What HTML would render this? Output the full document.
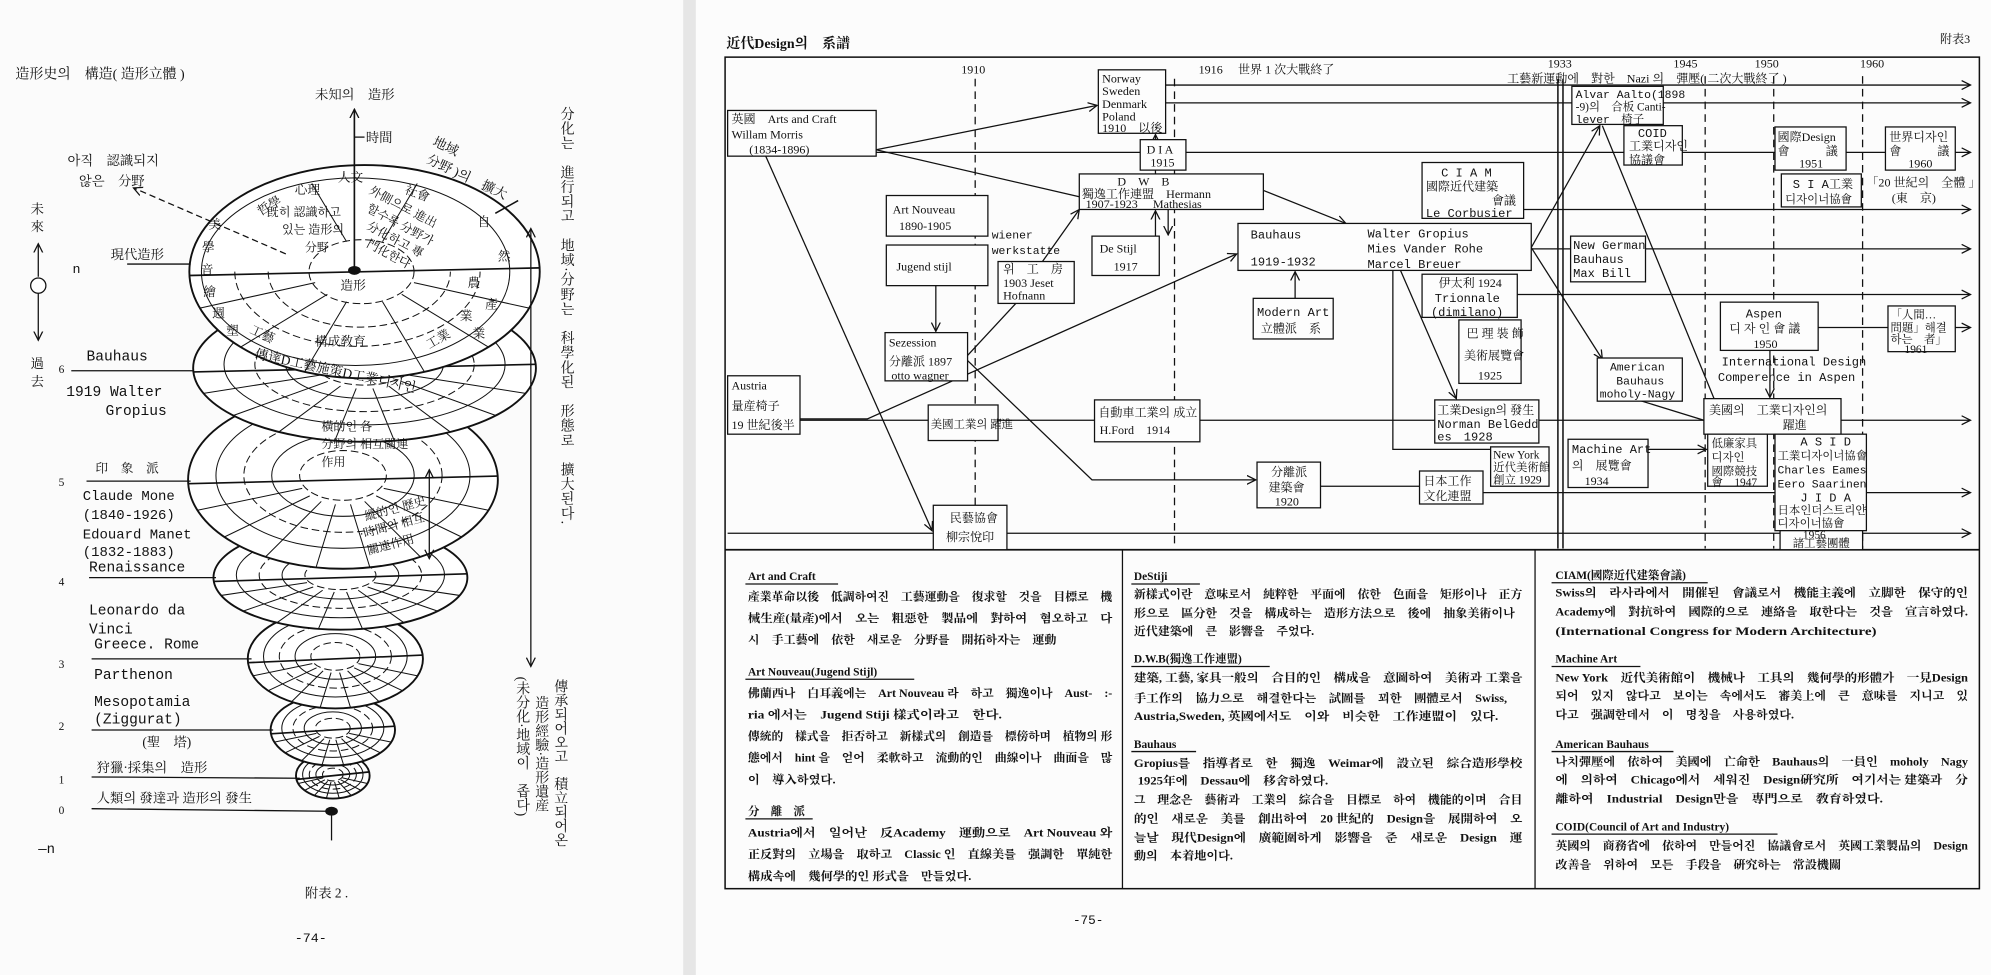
<!DOCTYPE html>
<html><head><meta charset="utf-8">
<style>
html,body{margin:0;padding:0;background:#fbfbfb;}
svg{display:block;}
text{font-family:"Liberation Serif","Noto Serif CJK SC",serif;fill:#111;}
.m{font-family:"Liberation Mono","Noto Serif CJK SC",monospace;}
.b{font-weight:bold;}
</style></head><body>
<svg id="s" width="1991" height="975" viewBox="0 0 1568 768" xmlns="http://www.w3.org/2000/svg">
<defs>
<marker id="a" markerWidth="8" markerHeight="8" refX="7" refY="4" orient="auto" markerUnits="userSpaceOnUse">
<path d="M0,0.5 L7,4 L0,7.5" fill="none" stroke="#111" stroke-width="1"/></marker>
<marker id="as" markerWidth="8" markerHeight="8" refX="7" refY="4" orient="auto-start-reverse" markerUnits="userSpaceOnUse">
<path d="M0,0.5 L7,4 L0,7.5" fill="none" stroke="#111" stroke-width="1"/></marker>
</defs>
<rect x="0" y="0" width="1568" height="768" fill="#fbfbfb"/>
<rect x="538" y="0" width="10" height="768" fill="#e6e6e6"/>
<rect x="548" y="0" width="1020" height="768" fill="#fcfcfc"/>

<!-- ============ LEFT PAGE ============ -->
<g id="left" font-size="10.5">
<text x="12" y="62" font-size="11">造形史의　構造( 造形立體 )</text>
<text x="248" y="78" font-size="10.5">未知의　造形</text>
<g id="layers"></g>
<line x1="279" y1="212" x2="279" y2="86" stroke="#111" stroke-width="1.3" marker-end="url(#a)"/>
<line x1="279" y1="108" x2="287" y2="108" stroke="#111"/>
<text x="288" y="112">時間</text>
<text x="340" y="114" transform="rotate(25 340 114)">地域</text>
<text x="335" y="128" transform="rotate(25 335 128)">分野 )의　擴大</text>
<line x1="390" y1="168" x2="408" y2="158" stroke="#111" stroke-width="1.2"/>
<text x="53" y="130">아직　認識되지</text>
<text x="62" y="146">않은　分野</text>
<line x1="225" y1="200" x2="105" y2="148" stroke="#111" stroke-dasharray="5,3" marker-end="url(#a)"/>
<text x="24" y="168">未</text><text x="24" y="182">來</text>
<line x1="30" y1="218" x2="30" y2="192" stroke="#111" marker-end="url(#a)"/>
<circle cx="30" cy="225" r="6" fill="#fff" stroke="#111"/>
<line x1="30" y1="231" x2="30" y2="268" stroke="#111" marker-end="url(#a)"/>
<text x="24" y="290">過</text><text x="24" y="304">去</text>
<text x="57" y="215" class="m">n</text>
<text x="87" y="204">現代造形</text>
<line x1="100" y1="208" x2="150" y2="208" stroke="#111"/>
<text x="68" y="284" class="m" font-size="11.5">Bauhaus</text>
<text x="46" y="294" font-size="9">6</text>
<line x1="56" y1="292" x2="152" y2="292" stroke="#111"/>
<text x="52" y="312" class="m" font-size="11.5">1919 Walter</text>
<text x="83" y="327" class="m" font-size="11.5">Gropius</text>
<text x="75" y="372" font-size="10">印　象　派</text>
<text x="46" y="383" font-size="9">5</text>
<line x1="68" y1="379" x2="150" y2="379" stroke="#111"/>
<text x="65" y="394" class="m" font-size="11">Claude Mone</text>
<text x="65" y="409" class="m" font-size="11">(1840-1926)</text>
<text x="65" y="424" class="m" font-size="11">Edouard Manet</text>
<text x="65" y="438" class="m" font-size="11">(1832-1883)</text>
<text x="70" y="450" class="m" font-size="11.5">Renaissance</text>
<text x="46" y="461" font-size="9">4</text>
<line x1="70" y1="455" x2="170" y2="455" stroke="#111"/>
<text x="70" y="484" class="m" font-size="11.5">Leonardo da</text>
<text x="70" y="499" class="m" font-size="11.5">Vinci</text>
<text x="74" y="511" class="m" font-size="11.5">Greece. Rome</text>
<text x="46" y="526" font-size="9">3</text>
<line x1="72" y1="519" x2="198" y2="519" stroke="#111"/>
<text x="74" y="535" class="m" font-size="11.5">Parthenon</text>
<text x="74" y="556" class="m" font-size="11.5">Mesopotamia</text>
<text x="74" y="570" class="m" font-size="11.5">(Ziggurat)</text>
<text x="46" y="575" font-size="9">2</text>
<line x1="72" y1="575" x2="215" y2="575" stroke="#111"/>
<text x="112" y="588">(聖　塔)</text>
<text x="76" y="608">狩獵·採集의　造形</text>
<text x="46" y="617" font-size="9">1</text>
<line x1="72" y1="612" x2="236" y2="613" stroke="#111"/>
<text x="76" y="632">人類의 發達과 造形의 發生</text>
<text x="46" y="641" font-size="9">0</text>
<line x1="72" y1="637" x2="258" y2="639" stroke="#111"/>
<ellipse cx="261" cy="639" rx="5" ry="3.5" fill="#111"/>
<line x1="261" y1="639" x2="261" y2="662" stroke="#111"/>
<text x="30" y="672" class="m" font-size="11">—n</text>
<text x="240" y="707">附表 2 .</text>
<text x="232" y="742" class="m">-74-</text>
<text font-size="11" x="445" y="84" style="writing-mode:vertical-rl" letter-spacing="0.5">分化는　進行되고　地域·分野는　科學化된　形態로　擴大된다.</text>
<line x1="418" y1="525" x2="418" y2="180" stroke="#111" marker-start="url(#as)" marker-end="url(#a)"/>
<text font-size="11" x="440" y="535" style="writing-mode:vertical-rl">傳承되어오고　積立되어온</text>
<text font-size="11" x="425" y="548" style="writing-mode:vertical-rl">造形經驗·造形遺産</text>
<text font-size="11" x="410" y="533" style="writing-mode:vertical-rl">(未分化·地域이　좁다)</text>
</g>

<!-- ============ RIGHT PAGE ============ -->
<g id="right" font-size="9.5" stroke-linecap="butt">
<text x="572" y="38" font-size="11" class="b">近代Design의　系譜</text>
<text x="1528" y="34" font-size="9.5">附表3</text>
<rect x="571" y="45" width="988" height="655" fill="none" stroke="#111" stroke-width="1.2"/>
<line x1="571" y1="433" x2="1559" y2="433" stroke="#111" stroke-width="1.4"/>
<line x1="884" y1="433" x2="884" y2="700" stroke="#111"/>
<line x1="1209" y1="433" x2="1209" y2="700" stroke="#111"/>
<g stroke="#111" stroke-dasharray="6,4">
<line x1="768" y1="62" x2="768" y2="432"/><line x1="925" y1="62" x2="925" y2="432"/>
<line x1="1343" y1="60" x2="1343" y2="432"/><line x1="1397" y1="60" x2="1397" y2="432"/><line x1="1467" y1="60" x2="1467" y2="432"/>
</g>
<line x1="1227" y1="62" x2="1227" y2="432" stroke="#111" stroke-width="1.2"/>
<line x1="1231" y1="62" x2="1231" y2="432" stroke="#111" stroke-width="1.2"/>
<text x="757" y="58">1910</text><text x="944" y="58">1916</text>
<text x="975" y="58">世界 1 次大戰終了</text>
<text x="1219" y="53">1933</text><text x="1318" y="53">1945</text>
<text x="1382" y="53">1950</text><text x="1465" y="53">1960</text>
<text x="1187" y="65">工藝新運動에　對한　Nazi 의　彈壓( 二次大戰終了 )</text>

<g stroke="#111" fill="none">
<line x1="918" y1="67" x2="1552" y2="67" marker-end="url(#a)"/>
<line x1="918" y1="81" x2="1238" y2="81"/>
<line x1="1310" y1="81" x2="1552" y2="81" marker-end="url(#a)"/>
<line x1="690" y1="120" x2="1552" y2="120" marker-end="url(#a)"/>
<line x1="1200" y1="165" x2="1552" y2="165" marker-end="url(#a)"/>
<line x1="1206" y1="196" x2="1552" y2="196" marker-end="url(#a)"/>
<line x1="1195" y1="232" x2="1552" y2="232" marker-end="url(#a)"/>
<line x1="1432" y1="258" x2="1552" y2="258" marker-end="url(#a)"/>
<line x1="630" y1="331" x2="1552" y2="331" marker-end="url(#a)"/>
<line x1="1040" y1="383" x2="1118" y2="383"/>
<line x1="1168" y1="388" x2="1552" y2="388" marker-end="url(#a)"/>
<line x1="573" y1="420" x2="1552" y2="420" marker-end="url(#a)"/>
<line x1="690" y1="118" x2="864" y2="83" marker-end="url(#a)"/>
<line x1="690" y1="118" x2="850" y2="155"/>
<line x1="603" y1="123" x2="734" y2="418" marker-end="url(#a)"/>
<line x1="737" y1="225" x2="737" y2="261" marker-end="url(#a)"/>
<line x1="762" y1="280" x2="800" y2="239"/>
<line x1="821" y1="206" x2="850" y2="165" marker-end="url(#a)"/>
<polyline points="762,284 860,378 989,378" marker-end="url(#a)"/>
<polyline points="630,330 683,330 974,200" marker-end="url(#a)"/>
<line x1="910" y1="137" x2="910" y2="106" marker-end="url(#a)"/>
<line x1="920" y1="165" x2="920" y2="185" marker-end="url(#a)"/>
<line x1="910" y1="186" x2="910" y2="166" marker-end="url(#a)"/>
<line x1="995" y1="150" x2="1060" y2="176" marker-end="url(#a)"/>
<line x1="1020" y1="235" x2="1020" y2="214" marker-end="url(#a)"/>
<polyline points="1097,213 1097,354 1174,354"/>
<line x1="1103" y1="213" x2="1147" y2="314" marker-end="url(#a)"/>
<line x1="1206" y1="195" x2="1260" y2="99" marker-end="url(#a)"/>
<line x1="1206" y1="195" x2="1262" y2="283" marker-end="url(#a)"/>
<line x1="1262" y1="99" x2="1350" y2="314"/>
<line x1="1290" y1="315" x2="1342" y2="331"/>
<line x1="1298" y1="354" x2="1344" y2="354" marker-end="url(#a)"/>
<line x1="1394" y1="276" x2="1394" y2="313" marker-end="url(#a)"/>
</g>

<g fill="#fdfdfd" stroke="#111" stroke-width="1">
<rect x="573" y="87" width="117" height="36"/>
<rect x="865" y="55" width="53" height="50"/>
<rect x="898" y="110" width="36" height="24"/>
<rect x="850" y="137" width="145" height="28"/>
<rect x="698" y="154" width="80" height="32"/>
<rect x="698" y="193" width="80" height="32"/>
<rect x="786" y="206" width="60" height="33"/>
<rect x="860" y="186" width="53" height="31"/>
<rect x="697" y="262" width="65" height="38"/>
<rect x="573" y="296" width="57" height="46"/>
<rect x="731" y="319" width="55" height="28"/>
<rect x="862" y="315" width="83" height="33"/>
<rect x="735" y="398" width="58" height="35"/>
<rect x="990" y="364" width="50" height="36"/>
<rect x="1118" y="371" width="50" height="26"/>
<rect x="975" y="176" width="231" height="37"/>
<rect x="1120" y="128" width="80" height="44"/>
<rect x="987" y="235" width="63" height="32"/>
<rect x="1120" y="216" width="75" height="34"/>
<rect x="1149" y="252" width="49" height="50"/>
<rect x="1130" y="315" width="82" height="34"/>
<rect x="1174" y="352" width="46" height="31"/>
<rect x="1238" y="68" width="72" height="30"/>
<rect x="1279" y="99" width="46" height="31"/>
<rect x="1237" y="186" width="59" height="36"/>
<rect x="1258" y="282" width="67" height="34"/>
<rect x="1235" y="346" width="63" height="38"/>
<rect x="1342" y="314" width="108" height="28"/>
<rect x="1345" y="342" width="47" height="41"/>
<rect x="1398" y="342" width="72" height="76"/>
<rect x="1402" y="418" width="65" height="15"/>
<rect x="1398" y="100" width="56" height="34"/>
<rect x="1403" y="137" width="63" height="26"/>
<rect x="1485" y="100" width="55" height="34"/>
<rect x="1355" y="238" width="77" height="38"/>
<rect x="1487" y="241" width="53" height="36"/>
</g>

<g font-size="9.5">
<text x="576" y="97">英國　Arts and Craft</text>
<text x="576" y="109">Willam Morris</text>
<text x="590" y="121">(1834-1896)</text>
<text x="868" y="65">Norway</text><text x="868" y="75">Sweden</text><text x="868" y="85">Denmark</text><text x="868" y="95">Poland</text><text x="868" y="104">1910　以後</text>
<text x="903" y="121">D I A</text><text x="906" y="131">1915</text>
<text x="880" y="146">D　W　B</text>
<text x="852" y="156">獨逸工作連盟　Hermann</text>
<text x="855" y="164">1907-1923　  Mathesias</text>
<text x="703" y="168">Art Nouveau</text><text x="708" y="181">1890-1905</text>
<text x="781" y="188" class="m" font-size="9">wiener</text>
<text x="781" y="200" class="m" font-size="9">werkstatte</text>
<text x="706" y="213">Jugend stijl</text>
<text x="790" y="215">위　工　房</text><text x="790" y="226">1903 Jeset</text><text x="790" y="236">Hofnann</text>
<text x="866" y="199">De Stijl</text><text x="877" y="213">1917</text>
<text x="700" y="273">Sezession</text><text x="700" y="288">分離派 1897</text><text x="702" y="299">otto wagner</text>
<text x="576" y="307">Austria</text><text x="576" y="323">量産椅子</text><text x="576" y="338">19 世紀後半</text>
<text x="733" y="337" font-size="9">美國工業의 躍進</text>
<text x="865" y="328">自動車工業의 成立</text><text x="866" y="342">H.Ford　1914</text>
<text x="748" y="411">民藝協會</text><text x="745" y="426">柳宗悅印</text>
<text x="1001" y="375">分離派</text><text x="999" y="387">建築會</text><text x="1004" y="398">1920</text>
<text x="1121" y="382">日本工作</text><text x="1121" y="394">文化連盟</text>
<text x="985" y="188" class="m">Bauhaus</text>
<text x="985" y="209" class="m">1919-1932</text>
<text x="1077" y="187" class="m">Walter Gropius</text>
<text x="1077" y="199" class="m">Mies Vander Rohe</text>
<text x="1077" y="211" class="m">Marcel Breuer</text>
<text x="1135" y="139" class="m">C I A M</text>
<text x="1123" y="150">國際近代建築</text>
<text x="1175" y="161">會議</text>
<text x="1123" y="171" class="m">Le Corbusier</text>
<text x="990" y="249" class="m">Modern Art</text><text x="993" y="262">立體派　系</text>
<text x="1133" y="226">伊太利 1924</text><text x="1130" y="238" class="m">Trionnale</text><text x="1127" y="249" class="m">(dimilano)</text>
<text x="1155" y="266">巴 理 裝 飾</text><text x="1153" y="283">美術展覽會</text><text x="1164" y="299">1925</text>
<text x="1132" y="326">工業Design의 發生</text><text x="1132" y="337" class="m">Norman BelGedd</text><text x="1132" y="347" class="m">es　1928</text>
<text x="1176" y="361" font-size="9">New York</text><text x="1176" y="371" font-size="9">近代美術館</text><text x="1176" y="381" font-size="9">創立 1929</text>
<text x="1241" y="77" class="m" font-size="9">Alvar Aalto(1898</text><text x="1241" y="87" font-size="9">-9)의　合板 Canti-</text><text x="1241" y="97" class="m" font-size="9">lever　椅子</text>
<text x="1290" y="108" class="m">COID</text><text x="1283" y="118">工業디자인</text><text x="1283" y="129">協議會</text>
<text x="1239" y="196" class="m">New German</text><text x="1239" y="207" class="m">Bauhaus</text><text x="1239" y="218" class="m">Max Bill</text>
<text x="1268" y="292" class="m" font-size="9">American</text><text x="1273" y="303" class="m" font-size="9">Bauhaus</text><text x="1260" y="313" class="m" font-size="9">moholy-Nagy</text>
<text x="1238" y="357" class="m">Machine Art</text><text x="1238" y="370">의　展覽會</text><text x="1248" y="382">1934</text>
<text x="1346" y="326">美國의　工業디자인의</text><text x="1404" y="338">躍進</text>
<text x="1348" y="352" font-size="9">低廉家具</text><text x="1348" y="363" font-size="9">디자인</text><text x="1348" y="374" font-size="9">國際競技</text><text x="1348" y="383" font-size="9">會　1947</text>
<text x="1418" y="351" class="m">A S I D</text>
<text x="1400" y="362" font-size="9">工業디자이너協會</text>
<text x="1400" y="373" class="m" font-size="9">Charles Eames</text>
<text x="1400" y="384" class="m" font-size="9">Eero Saarinen</text>
<text x="1418" y="395" class="m">J I D A</text>
<text x="1400" y="405" font-size="9">日本인더스트리얀</text>
<text x="1400" y="415" font-size="9">디자이너協會</text>
<text x="1420" y="424" font-size="9">1956</text>
<text x="1412" y="431" font-size="9">諸工藝團體</text>
<text x="1400" y="111">國際Design</text><text x="1400" y="122">會　　　議</text><text x="1417" y="132">1951</text>
<text x="1412" y="148" class="m">S I A工業</text><text x="1406" y="160" font-size="9">디자이너協會</text>
<text x="1488" y="111">世界디자인</text><text x="1488" y="122">會　　　議</text><text x="1503" y="132">1960</text>
<text x="1470" y="147">「20 世紀의　全體 」</text><text x="1490" y="159">(東　京)</text>
<text x="1375" y="250" class="m">Aspen</text><text x="1362" y="262">디 자 인 會 議</text><text x="1381" y="274">1950</text>
<text x="1489" y="251" font-size="9">「人間…</text><text x="1489" y="261" font-size="9">問題」해결</text><text x="1489" y="270" font-size="9">하는　者」</text><text x="1500" y="278" font-size="9">1961</text>
<text x="1356" y="288" class="m" font-size="9.5">International Design</text>
<text x="1353" y="300" class="m" font-size="9.5">Comperence in Aspen</text>
</g>

<g font-size="9" class="b">
<text x="589" y="457">Art and Craft</text>
<line x1="587" y1="460" x2="660" y2="460" stroke="#111"/>
<text x="589" y="473" textLength="287" lengthAdjust="spacingAndGlyphs">產業革命以後　低調하여진　工藝運動을　復求할　것을　目標로　機</text>
<text x="589" y="490" textLength="287" lengthAdjust="spacingAndGlyphs">械生産(量產)에서　오는　粗惡한　製品에　對하여　혐오하고　다</text>
<text x="589" y="507" textLength="243" lengthAdjust="spacingAndGlyphs">시　手工藝에　依한　새로운　分野를　開拓하자는　運動</text>
<text x="589" y="532">Art Nouveau(Jugend Stijl)</text>
<line x1="587" y1="535" x2="720" y2="535" stroke="#111"/>
<text x="589" y="549" textLength="287" lengthAdjust="spacingAndGlyphs">佛蘭西나　白耳義에는　Art Nouveau 라　하고　獨逸이나　Aust-　:-</text>
<text x="589" y="566" textLength="200" lengthAdjust="spacingAndGlyphs">ria 에서는　Jugend Stiji 樣式이라고　한다.</text>
<text x="589" y="583" textLength="287" lengthAdjust="spacingAndGlyphs">傳統的　樣式을　拒否하고　新樣式의　創造를　標傍하며　植物의 形</text>
<text x="589" y="600" textLength="287" lengthAdjust="spacingAndGlyphs">態에서　hint 을　얻어　柔軟하고　流動的인　曲線이나　曲面을　많</text>
<text x="589" y="617" textLength="69" lengthAdjust="spacingAndGlyphs">이　導入하였다.</text>
<text x="589" y="642">分　離　派</text>
<line x1="587" y1="645" x2="640" y2="645" stroke="#111"/>
<text x="589" y="659" textLength="287" lengthAdjust="spacingAndGlyphs">Austria에서　일어난　反Academy　運動으로　Art Nouveau 와</text>
<text x="589" y="676" textLength="287" lengthAdjust="spacingAndGlyphs">正反對의　立場을　取하고　Classic 인　直線美를　强調한　單純한</text>
<text x="589" y="693" textLength="176" lengthAdjust="spacingAndGlyphs">構成속에　幾何學的인 形式을　만들었다.</text>

<text x="893" y="457">DeStiji</text>
<line x1="891" y1="460" x2="945" y2="460" stroke="#111"/>
<text x="893" y="471" textLength="306" lengthAdjust="spacingAndGlyphs">新樣式이란　意味로서　純粹한　平面에　依한　色面을　矩形이나　正方</text>
<text x="893" y="486" textLength="300" lengthAdjust="spacingAndGlyphs">形으로　區分한　것을　構成하는　造形方法으로　後에　抽象美術이나</text>
<text x="893" y="500" textLength="142" lengthAdjust="spacingAndGlyphs">近代建築에　큰　影響을　주었다.</text>
<text x="893" y="522">D.W.B(獨逸工作連盟)</text>
<line x1="891" y1="525" x2="1000" y2="525" stroke="#111"/>
<text x="893" y="537" textLength="306" lengthAdjust="spacingAndGlyphs">建築, 工藝, 家具一般의　合目的인　構成을　意圖하여　美術과 工業을</text>
<text x="893" y="553" textLength="294" lengthAdjust="spacingAndGlyphs">手工作의　協力으로　해결한다는　試圖를　꾀한　團體로서　Swiss,</text>
<text x="893" y="567" textLength="287" lengthAdjust="spacingAndGlyphs">Austria,Sweden, 英國에서도　이와　비슷한　工作連盟이　있다.</text>
<text x="893" y="589">Bauhaus</text>
<line x1="891" y1="592" x2="942" y2="592" stroke="#111"/>
<text x="893" y="604" textLength="306" lengthAdjust="spacingAndGlyphs">Gropius를　指導者로　한　獨逸　Weimar에　設立된　綜合造形學校</text>
<text x="896" y="618" textLength="150" lengthAdjust="spacingAndGlyphs">1925年에　Dessau에　移舍하였다.</text>
<text x="893" y="633" textLength="306" lengthAdjust="spacingAndGlyphs">그　理念은　藝術과　工業의　綜合을　目標로　하여　機能的이며　合目</text>
<text x="893" y="648" textLength="306" lengthAdjust="spacingAndGlyphs">的인　새로운　美를　創出하여　20 世紀的　Design을　展開하여　오</text>
<text x="893" y="663" textLength="306" lengthAdjust="spacingAndGlyphs">늘날　現代Design에　廣範圍하게　影響을　준　새로운　Design　運</text>
<text x="893" y="677" textLength="78" lengthAdjust="spacingAndGlyphs">動의　本着地이다.</text>

<text x="1225" y="456">CIAM(國際近代建築會議)</text>
<line x1="1222" y1="459" x2="1345" y2="459" stroke="#111"/>
<text x="1225" y="470" textLength="325" lengthAdjust="spacingAndGlyphs">Swiss의　라사라에서　開催된　會議로서　機能主義에　立脚한　保守的인</text>
<text x="1225" y="485" textLength="325" lengthAdjust="spacingAndGlyphs">Academy에　對抗하여　國際的으로　連絡을　取한다는　것을　宣言하였다.</text>
<text x="1225" y="500" textLength="253" lengthAdjust="spacingAndGlyphs">(International Congress for Modern Architecture)</text>
<text x="1225" y="522">Machine Art</text>
<line x1="1222" y1="525" x2="1292" y2="525" stroke="#111"/>
<text x="1225" y="537" textLength="325" lengthAdjust="spacingAndGlyphs">New York　近代美術館이　機械나　工具의　幾何學的形體가　一見Design</text>
<text x="1225" y="551" textLength="325" lengthAdjust="spacingAndGlyphs">되어　있지　않다고　보이는　속에서도　審美上에　큰　意味를　지니고　있</text>
<text x="1225" y="566" textLength="188" lengthAdjust="spacingAndGlyphs">다고　强調한데서　이　명칭을　사용하였다.</text>
<text x="1225" y="589">American Bauhaus</text>
<line x1="1222" y1="592" x2="1318" y2="592" stroke="#111"/>
<text x="1225" y="603" textLength="325" lengthAdjust="spacingAndGlyphs">나치彈壓에　依하여　美國에　亡命한　Bauhaus의　一員인　moholy　Nagy</text>
<text x="1225" y="617" textLength="325" lengthAdjust="spacingAndGlyphs">에　의하여　Chicago에서　세워진　Design硏究所　여기서는 建築과　分</text>
<text x="1225" y="632" textLength="258" lengthAdjust="spacingAndGlyphs">離하여　Industrial　Design만을　專門으로　敎育하였다.</text>
<text x="1225" y="654">COID(Council of Art and Industry)</text>
<line x1="1222" y1="657" x2="1400" y2="657" stroke="#111"/>
<text x="1225" y="669" textLength="325" lengthAdjust="spacingAndGlyphs">英國의　商務省에　依하여　만들어진　協議會로서　英國工業製品의　Design</text>
<text x="1225" y="684" textLength="225" lengthAdjust="spacingAndGlyphs">改善을　위하여　모든　手段을　硏究하는　常設機關</text>
</g>
<text x="845" y="728" class="m" font-size="10">-75-</text>
</g>

<script>
(function(){
var NS="http://www.w3.org/2000/svg",g=document.getElementById("layers");
function el(n,a){var e=document.createElementNS(NS,n);for(var k in a)e.setAttribute(k,a[k]);g.appendChild(e);return e;}
var L=[[262,611,29,18],[262,575,49,28],[264,519,69,39],[268,455,100,41],[270,378,122,70],[287,290,135,58],[287,214,138,84]];
L.forEach(function(p,i){
  var cx=p[0],cy=p[1],rx=p[2],ry=p[3],top=(i==L.length-1);
  el("ellipse",{cx:cx,cy:cy,rx:rx,ry:ry,fill:"#fff",stroke:"#111","stroke-width":1.5});
  var ks=top?[0.88,0.3]:[0.82,0.64,0.46,0.28];
  ks.forEach(function(k,j){
    el("ellipse",{cx:cx+(top?-8*k:0),cy:cy-(top?0:ry*0.05),rx:rx*k,ry:ry*k,fill:"none",stroke:"#111","stroke-width":0.8,"stroke-dasharray":(j%2?"6,3":"none")});
  });
  if(top){
    // lower half rings only
    [0.7,0.52].forEach(function(k){
      var r1=rx*k,r2=ry*k,c=cx-8*k;
      el("path",{d:"M"+(c-r1)+","+cy+" A"+r1+","+r2+" 0 0 0 "+(c+r1)+","+cy,fill:"none",stroke:"#111","stroke-width":0.8,"stroke-dasharray":"6,3"});
    });
  }
  el("line",{x1:cx-rx,y1:cy+3,x2:cx+rx,y2:cy-3,stroke:"#111","stroke-width":1.3});
  var angs=top?[250,290,20,45,70,110,135,160]:[20,40,60,80,100,120,140,160];
  angs.forEach(function(d){
    var t=d*Math.PI/180,k0=top?0.3:0.28,x0=cx+Math.cos(t)*rx*k0,y0=cy+Math.sin(t)*ry*k0;
    el("line",{x1:x0,y1:y0,x2:cx+Math.cos(t)*rx*(top&&d>180?0.88:1),y2:cy+Math.sin(t)*ry*(top&&d>180?0.88:1),stroke:"#111","stroke-width":0.8});
  });
});
el("ellipse",{cx:279,cy:213,rx:5,ry:3.5,fill:"#111"});
function tx(x,y,s,r,f){var e=el("text",{x:x,y:y,"font-size":f||10});if(r)e.setAttribute("transform","rotate("+r+" "+x+" "+y+")");e.textContent=s;}
tx(164,180,"美");tx(159,198,"學");tx(158,216,"音");tx(160,233,"繪");tx(167,250,"週");tx(178,264,"塑");
tx(205,170,"哲學",-30);tx(232,153,"心理");tx(266,143,"人文");tx(318,152,"社會",20);tx(376,178,"自");tx(392,205,"然");
tx(368,226,"農");tx(382,243,"產");tx(362,252,"業");tx(338,275,"工業",-30);tx(372,266,"業");
tx(196,262,"工藝",25);tx(248,272,"構成敎育");tx(268,228,"造形");
tx(210,170,"旣히 認識하고",0,9.5);tx(222,184,"있는 造形의",0,9.5);tx(240,198,"分野",0,9.5);
tx(290,152,"外側으로 進出",28,9.5);tx(288,166,"할수록 分野가",28,9.5);tx(288,180,"分化하고 專",28,9.5);tx(288,194,"門化한다",28,9.5);
tx(200,282,"傳達D工藝施策D工業디자인",12,10.5);
tx(253,339,"橫的인 各",0,9.5);tx(253,353,"分野의 相互關連",0,9.5);tx(253,367,"作用",0,9.5);
tx(288,410,"縱的인 歷史",-15,9.5);tx(284,424,"·時間의 相互",-15,9.5);tx(290,437,"關連作用",-15,9.5);
el("line",{x1:338,y1:370,x2:338,y2:440,stroke:"#111","marker-start":"url(#as)","marker-end":"url(#a)"});
})();
</script>
</svg>
</body></html>
